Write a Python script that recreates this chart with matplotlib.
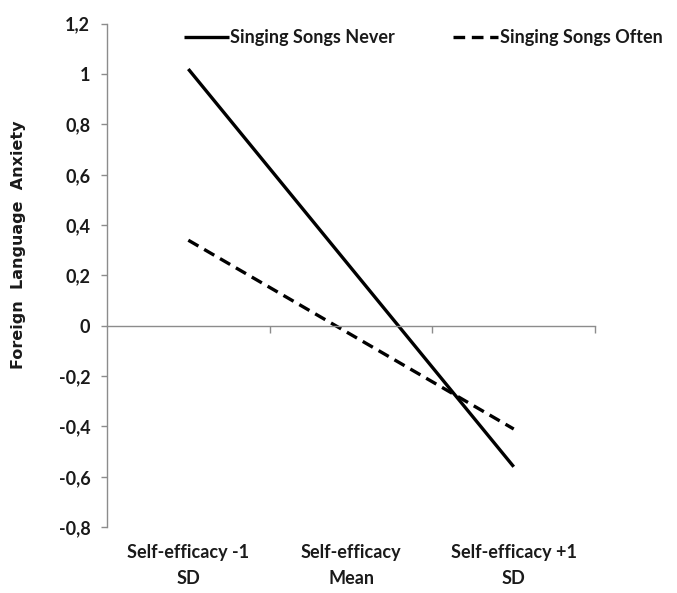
import matplotlib
matplotlib.use("Agg")
import matplotlib.pyplot as plt
from matplotlib.ticker import FuncFormatter, FixedLocator
from matplotlib.transforms import blended_transform_factory

categories = ["Self-efficacy -1\nSD", "Self-efficacy\nMean", "Self-efficacy +1\nSD"]
never = [1.02, 0.23, -0.56]
often = [0.34, -0.035, -0.41]
series_names = ["Singing Songs Never", "Singing Songs Often"]
yticks = [-0.8, -0.6, -0.4, -0.2, 0.0, 0.2, 0.4, 0.6, 0.8, 1.0, 1.2]

FONT = "Lato"
fig = plt.figure(figsize=(6.77, 5.93), dpi=100)
ax = fig.add_axes([0.158, 0.111, 0.721, 0.849])

x = [i + 0.5 for i in range(len(categories))]
ax.plot(x, never, color="black", lw=2.4, solid_capstyle="butt", label=series_names[0])
ax.plot(x, often, color="black", lw=2.4, ls=(0, (3.5, 2)), dash_capstyle="butt", label=series_names[1])

ax.set_xlim(0, 3)
ax.set_ylim(-0.8, 1.2)

gray = "#8c8c8c"
for s in ["top", "right"]:
    ax.spines[s].set_visible(False)
ax.spines["left"].set_color(gray)
ax.spines["left"].set_linewidth(1)
ax.spines["bottom"].set_position(("data", 0))
ax.spines["bottom"].set_color(gray)
ax.spines["bottom"].set_linewidth(1)


def fmt(v, p):
    r = round(v, 1)
    if r == 0:
        return "0"
    return f"{r:g}".replace(".", ",")


ax.yaxis.set_major_locator(FixedLocator(yticks))
ax.yaxis.set_major_formatter(FuncFormatter(fmt))
ax.tick_params(axis="y", direction="out", length=4, width=1, color=gray, pad=8)
for lab in ax.get_yticklabels():
    lab.set_fontfamily(FONT)
    lab.set_fontweight("bold")
    lab.set_fontsize(13)
    lab.set_color("#1a1a1a")

ax.set_xticks([1, 2, 3])
ax.set_xticklabels([])
ax.tick_params(axis="x", direction="out", length=5, width=1, color=gray)

trans = blended_transform_factory(ax.transData, ax.transAxes)
for xi, lab in zip(x, categories):
    ax.text(xi, -0.033, lab, transform=trans, ha="center", va="top",
            fontfamily=FONT, fontweight="bold", fontsize=13, color="#1a1a1a", linespacing=1.65)

fig.text(0.027, 0.587, "Foreign  Language  Anxiety", rotation=90, ha="center", va="center",
         fontfamily="DejaVu Sans", fontweight="bold", fontsize=11.5, color="#1a1a1a")

leg = fig.legend(loc="center", bbox_to_anchor=(0.625, 0.936), ncol=2, frameon=False,
                 handlelength=2.5, handletextpad=0.1, columnspacing=3.2,
                 prop={"family": FONT, "weight": "bold", "size": 13})
for t in leg.get_texts():
    t.set_color("#1a1a1a")

fig.savefig("out.png", dpi=100, facecolor="white")
